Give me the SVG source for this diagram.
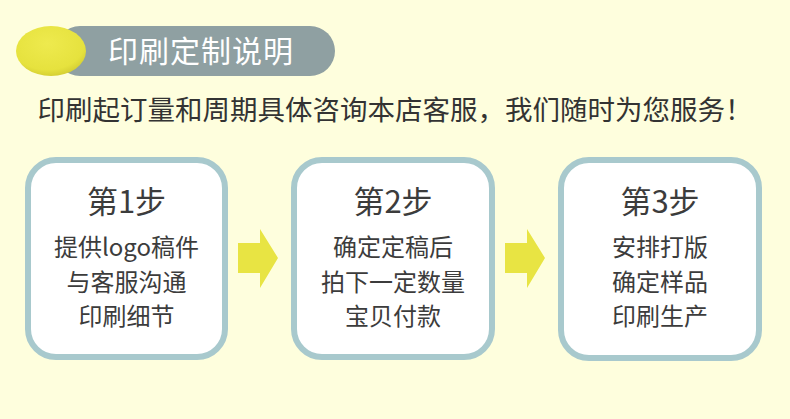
<svg xmlns="http://www.w3.org/2000/svg" width="790" height="419" viewBox="0 0 790 419">
<defs>
<style>
text{font-family:"Noto Sans CJK SC","Noto Sans",sans-serif;fill:#3c3c3c;text-anchor:middle}
.box{fill:#ffffff;stroke:#a8c9cd;stroke-width:6}
.step{font-size:31px}
.line{font-size:24px}
.arrow{fill:#e8e443}
</style>
<radialGradient id="yg" cx="0.45" cy="0.35" r="0.7">
<stop offset="0" stop-color="#eeea4e"/>
<stop offset="0.75" stop-color="#e6e23e"/>
<stop offset="1" stop-color="#cfc92f"/>
</radialGradient>
</defs>
<rect width="790" height="419" fill="#fefedd"/>
<g id="header">
<rect x="55" y="26" width="280" height="50" rx="25" fill="#8fa0a2"/>
<ellipse cx="51" cy="51" rx="35" ry="25" fill="url(#yg)"/>
<text x="201" y="62" style="font-size:30px;letter-spacing:1px;fill:#ffffff">印刷定制说明</text>
</g>
<text x="395" y="120" style="font-size:27.5px;fill:#333333">印刷起订量和周期具体咨询本店客服，我们随时为您服务！</text>
<g id="step1">
<rect class="box" x="28" y="160" width="197" height="197" rx="28"/>
<text class="step" x="126.5" y="213">第1步</text>
<text class="line" x="126.5" y="256">提供logo稿件</text>
<text class="line" x="126.5" y="291">与客服沟通</text>
<text class="line" x="126.5" y="325">印刷细节</text>
</g>
<g id="step2">
<rect class="box" x="294" y="160" width="198" height="197" rx="28"/>
<text class="step" x="393" y="213">第2步</text>
<text class="line" x="393" y="256">确定定稿后</text>
<text class="line" x="393" y="291">拍下一定数量</text>
<text class="line" x="393" y="325">宝贝付款</text>
</g>
<g id="step3">
<rect class="box" x="561" y="160" width="198" height="198" rx="28"/>
<text class="step" x="660" y="213">第3步</text>
<text class="line" x="660" y="256">安排打版</text>
<text class="line" x="660" y="291">确定样品</text>
<text class="line" x="660" y="325">印刷生产</text>
</g>
<g id="connectors">
<polygon class="arrow" points="238,243 260,243 260,229 278,258 260,288 260,273 238,273"/>
<polygon class="arrow" points="505,243 527,243 527,229 545,258 527,288 527,273 505,273"/>
</g>
</svg>
